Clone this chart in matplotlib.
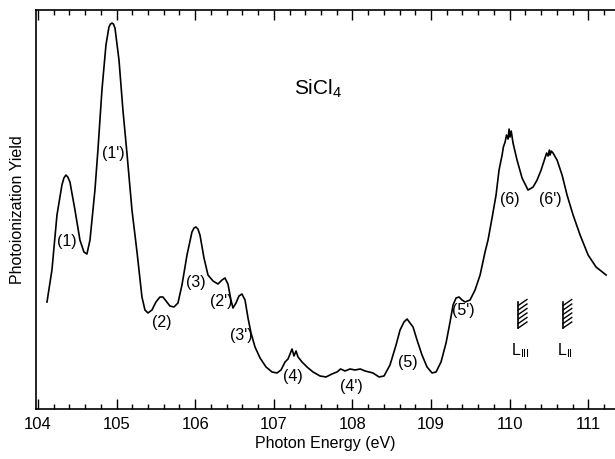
import matplotlib
matplotlib.use("Agg")
import matplotlib.pyplot as plt
from matplotlib.ticker import MultipleLocator

plt.rcParams['font.family'] = ['Liberation Sans', 'DejaVu Sans']
plt.rcParams['mathtext.fontset'] = 'custom'
plt.rcParams['mathtext.rm'] = 'Liberation Sans'
plt.rcParams['mathtext.it'] = 'Liberation Sans:italic'

energy = [104.115, 104.178, 104.242, 104.305, 104.330, 104.356, 104.380, 104.407, 104.471, 104.534,
          104.585, 104.623, 104.662, 104.725, 104.763, 104.814, 104.865, 104.903, 104.922, 104.942,
          104.961, 104.980, 105.031, 105.081, 105.132, 105.196, 105.260, 105.323, 105.361, 105.400,
          105.450, 105.501, 105.552, 105.590, 105.629, 105.679, 105.730, 105.781, 105.832, 105.896,
          105.959, 105.985, 106.010, 106.035, 106.061, 106.112, 106.163, 106.227, 106.290, 106.341,
          106.379, 106.417, 106.455, 106.481, 106.519, 106.557, 106.595, 106.634, 106.672, 106.710,
          106.761, 106.825, 106.901, 106.977, 107.041, 107.092, 107.143, 107.181, 107.206, 107.232,
          107.257, 107.283, 107.308, 107.359, 107.422, 107.499, 107.588, 107.664, 107.740, 107.804,
          107.850, 107.906, 107.970, 108.033, 108.100, 108.160, 108.262, 108.338, 108.402, 108.478,
          108.555, 108.606, 108.656, 108.695, 108.733, 108.771, 108.822, 108.885, 108.949, 109.013,
          109.064, 109.127, 109.191, 109.242, 109.280, 109.318, 109.356, 109.395, 109.433, 109.496,
          109.560, 109.624, 109.687, 109.725, 109.776, 109.827, 109.865, 109.904, 109.920, 109.942,
          109.960, 109.980, 109.993, 110.005, 110.020, 110.043, 110.094, 110.158, 110.234, 110.298,
          110.349, 110.400, 110.450, 110.470, 110.489, 110.505, 110.514, 110.530, 110.552, 110.603,
          110.667, 110.730, 110.807, 110.896, 110.998, 111.099, 111.227]
yield_ = [107, 139, 194, 224, 231, 234, 232, 227, 199, 169,
          157, 155, 169, 219, 259, 319, 364, 382, 385, 386,
          385, 381, 349, 299, 256, 199, 157, 112, 99, 96,
          99, 107, 112, 112, 108, 103, 102, 106, 124, 154,
          177, 181, 182, 180, 174, 151, 134, 128, 125, 129,
          131, 125, 109, 101, 106, 113, 115, 109, 91, 76,
          62, 51, 42, 37, 36, 39, 47, 50, 55, 60,
          53, 58, 52, 47, 42, 37, 33, 32, 35, 37,
          40, 38, 40, 39, 40, 38, 36, 32, 33, 44,
          64, 79, 87, 90, 86, 82, 69, 54, 42, 36,
          37, 47, 66, 87, 104, 111, 112, 109, 107, 109,
          119, 134, 157, 169, 191, 214, 239, 254, 262, 267,
          274, 270, 280, 272, 278, 266, 249, 231, 219, 222,
          229, 239, 251, 256, 253, 259, 254, 258, 256, 249,
          234, 214, 194, 174, 154, 142, 134]

peak_labels = ["(1)", "(1')", "(2)", "(3)", "(2')", "(3')", "(4)", "(4')", "(5)", "(5')", "(6)", "(6')"]
label_x = [104.369, 104.954, 105.578, 106.010, 106.328, 106.583, 107.244, 107.982, 108.707, 109.407, 110.005, 110.514]
label_y = [168, 256, 86, 127, 108, 73, 32, 22, 46, 99, 210, 210]

edge_names = [r"L$_{\rm III}$", r"L$_{\rm II}$"]
edge_energy = [110.11, 110.68]

fig = plt.figure(figsize=(6.15, 4.59), dpi=100)
ax = fig.add_axes([0.0585, 0.109, 0.9415, 0.869])
ax.plot(energy, yield_, color='black', lw=1.2, solid_joinstyle='round')

for t, x, y in zip(peak_labels, label_x, label_y):
    ax.text(x, y, t, ha='center', va='center', fontsize=11.5)

ax.text(107.562, 320, r"SiCl$_4$", ha='center', va='center', fontsize=15)

for name, e in zip(edge_names, edge_energy):
    ax.plot([e, e], [81, 107], color='black', lw=1.2)
    for k in range(6):
        y0 = 81 + k * 4.5
        ax.plot([e, e + 0.11], [y0, y0 + 6], color='black', lw=1.0)
    ax.text(e + 0.03, 58, name, ha='center', va='center', fontsize=11.5)

ax.set_xlim(103.975, 111.34)
ax.set_ylim(0, 399)
ax.xaxis.set_major_locator(MultipleLocator(1))
ax.xaxis.set_minor_locator(MultipleLocator(0.2))
ax.tick_params(axis='x', which='both', direction='in', top=True, labelsize=12, pad=6)
ax.tick_params(axis='x', which='major', length=7, width=1.0)
ax.tick_params(axis='x', which='minor', length=3.5, width=1.0)
ax.set_yticks([])
ax.spines['right'].set_visible(False)
for s in ['left', 'top', 'bottom']:
    ax.spines[s].set_linewidth(1.2)
ax.set_xlabel("Photon Energy (eV)", fontsize=11.5, labelpad=3)
ax.set_ylabel("Photoionization Yield", fontsize=11.5, labelpad=8)

fig.savefig("out.png", dpi=100)
